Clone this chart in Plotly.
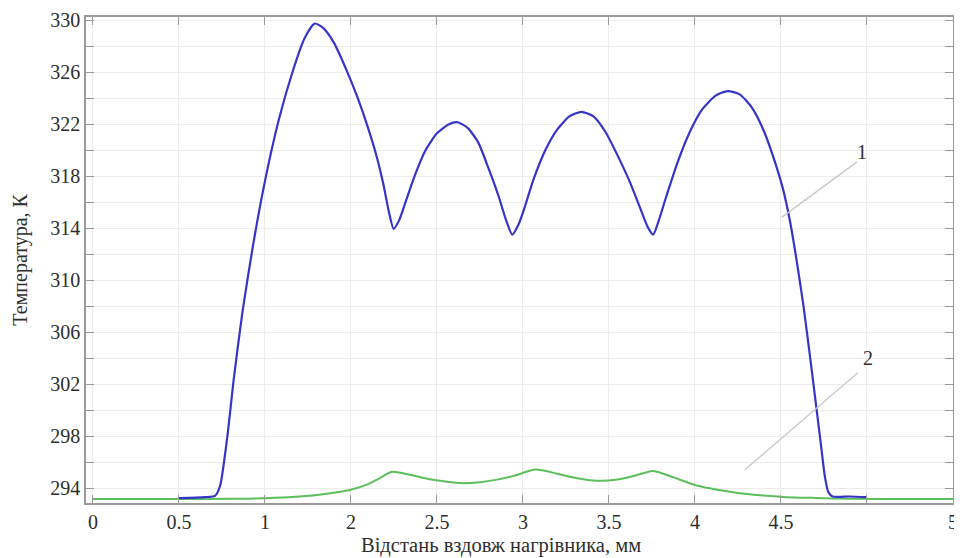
import plotly.graph_objects as go

# Curve 1 (blue): temperature along heater, K
blue_x = [0.50, 0.65, 0.71, 0.74, 0.78, 0.82, 0.87, 0.93, 1.00, 1.08, 1.16, 1.23, 1.29, 1.34,
          1.40, 1.47, 1.54, 1.60, 1.65, 1.69, 1.72, 1.748, 1.78, 1.82, 1.87, 1.93, 2.00,
          2.07, 2.12, 2.18, 2.24, 2.30, 2.36, 2.40, 2.438, 2.475, 2.51, 2.56, 2.63, 2.70,
          2.77, 2.84, 2.91, 2.98, 3.05, 3.12, 3.18, 3.225, 3.257, 3.29, 3.33, 3.40, 3.47,
          3.54, 3.62, 3.69, 3.76, 3.83, 3.90, 3.96, 4.01, 4.05, 4.09, 4.13, 4.17, 4.20,
          4.23, 4.255, 4.275, 4.30, 4.40, 4.50]
blue_y = [293.22, 293.30, 293.40, 294.2, 297.8, 302.5, 307.6, 312.6, 317.6, 322.3, 326.0, 328.6,
          329.75, 329.4, 328.3, 326.3, 324.0, 321.7, 319.5, 317.3, 315.3, 313.95, 314.6, 316.1,
          318.0, 319.9, 321.3, 322.0, 322.15, 321.7, 320.6, 318.6, 316.4, 314.7, 313.5, 314.3,
          315.6, 317.7, 320.0, 321.6, 322.6, 322.95, 322.6, 321.4, 319.6, 317.6, 315.6, 314.1,
          313.5, 314.6, 316.3, 319.1, 321.4, 323.1, 324.2, 324.55, 324.3, 323.3, 321.5, 319.3,
          317.1, 314.7, 311.6, 308.1, 304.0, 300.8, 297.6, 294.9, 293.7, 293.35, 293.35, 293.3]

# Curve 2 (green)
green_x = [0.00, 0.50, 0.80, 1.00, 1.20, 1.35, 1.494, 1.60, 1.669, 1.737, 1.78, 1.85,
           1.95, 2.05, 2.14, 2.25, 2.35, 2.45, 2.52, 2.57, 2.62, 2.70, 2.80, 2.93, 3.05,
           3.15, 3.22, 3.25, 3.29, 3.38, 3.51, 3.64, 3.76, 3.90, 4.01, 4.20, 4.40, 4.70, 5.00]
green_y = [293.15, 293.15, 293.18, 293.22, 293.35, 293.55, 293.85, 294.3, 294.77, 295.25,
           295.2, 295.0, 294.7, 294.5, 294.38, 294.45, 294.65, 294.95, 295.25, 295.42, 295.35,
           295.1, 294.8, 294.56, 294.65, 294.95, 295.22, 295.32, 295.22, 294.8, 294.2, 293.85,
           293.6, 293.42, 293.32, 293.24, 293.18, 293.15, 293.15]

x_tickvals = [0, 0.5, 1, 1.5, 2, 2.5, 3, 3.5, 4, 4.5, 5]
x_ticktext = ["0", "0.5", "1", "2", "2.5", "3", "3.5", "4", "4.5", "", "5"]
y_tickvals = [294, 298, 302, 306, 310, 314, 318, 322, 326, 330]

x_title = "Відстань вздовж нагрівника, мм"
y_title = "Температура, К"

FONT = "Liberation Serif, Times New Roman, serif"
AXIS_COLOR = "#9a9a9a"
GRID_COLOR = "#ececec"
TEXT_COLOR = "#2e2e2e"

fig = go.Figure()
fig.add_trace(go.Scatter(x=green_x, y=green_y, mode="lines",
                         line=dict(color="#5cbf5c", width=2, shape="spline", smoothing=0.8),
                         showlegend=False, hoverinfo="skip"))
fig.add_trace(go.Scatter(x=blue_x, y=blue_y, mode="lines",
                         line=dict(color="#3535c8", width=2.2, shape="spline", smoothing=0.6),
                         showlegend=False, hoverinfo="skip"))

# leader lines and curve labels
fig.add_shape(type="line", x0=4.006, y0=314.85, x1=4.442, y1=319.1,
              line=dict(color="#c8c8c8", width=1.3))
fig.add_shape(type="line", x0=3.79, y0=295.4, x1=4.448, y1=302.9,
              line=dict(color="#c8c8c8", width=1.3))
fig.add_annotation(x=4.471, y=319.85, text="1", showarrow=False, xanchor="center", yanchor="middle",
                   font=dict(family=FONT, size=20, color=TEXT_COLOR))
fig.add_annotation(x=4.506, y=304.0, text="2", showarrow=False, xanchor="center", yanchor="middle",
                   font=dict(family=FONT, size=20, color=TEXT_COLOR))

# axis titles (placed in paper coordinates)
fig.add_annotation(xref="paper", yref="paper", x=0.479, y=-0.1125, text=x_title, showarrow=False,
                   xanchor="center", yanchor="bottom", borderpad=0,
                   font=dict(family=FONT, size=20.5, color=TEXT_COLOR))
fig.add_annotation(xref="paper", yref="paper", x=-0.0765, y=0.5, text=y_title, showarrow=False,
                   xanchor="center", yanchor="middle", textangle=-90, borderpad=0,
                   font=dict(family=FONT, size=20, color=TEXT_COLOR))

fig.update_xaxes(range=[-0.04, 5.0], tickmode="array", tickvals=x_tickvals, ticktext=x_ticktext,
                 showline=True, linecolor=AXIS_COLOR, linewidth=1.5, mirror="ticks",
                 ticks="inside", ticklen=8, tickcolor=AXIS_COLOR, automargin=False,
                 showgrid=True, gridcolor=GRID_COLOR, zeroline=False,
                 tickfont=dict(family=FONT, size=20, color=TEXT_COLOR))
fig.update_yaxes(range=[292.85, 330.25], tickmode="array", tickvals=y_tickvals,
                 showline=True, linecolor=AXIS_COLOR, linewidth=1.5, mirror="ticks",
                 ticks="inside", ticklen=8, tickcolor=AXIS_COLOR, automargin=False,
                 minor=dict(dtick=2, tick0=292, ticks="inside", ticklen=8, tickcolor=AXIS_COLOR,
                            showgrid=True, gridcolor=GRID_COLOR),
                 showgrid=True, gridcolor=GRID_COLOR, zeroline=False,
                 tickfont=dict(family=FONT, size=20, color=TEXT_COLOR))

# page body has an 8px default margin, so the figure is sized to fit the 962x558 window
fig.update_layout(width=954, height=550, plot_bgcolor="white", paper_bgcolor="white",
                  margin=dict(l=78, r=9, t=9, b=55))

fig.write_html("out.html")
